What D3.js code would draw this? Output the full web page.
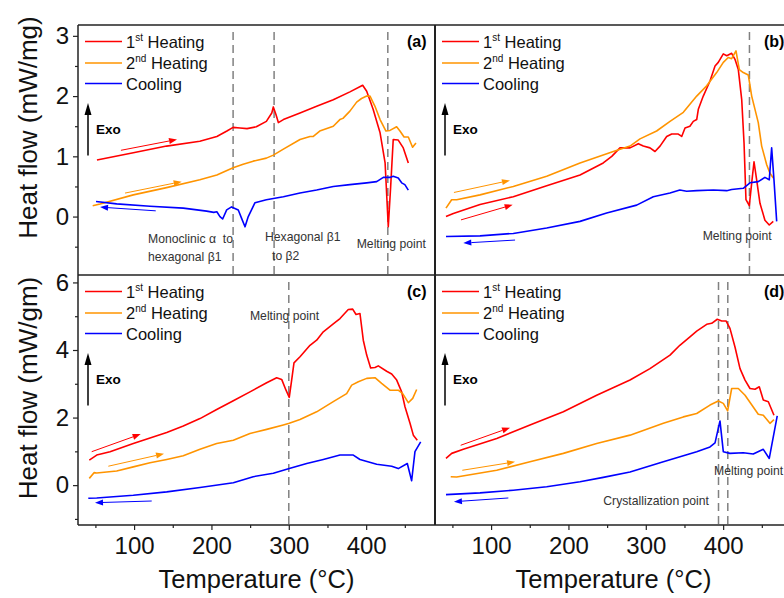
<!DOCTYPE html>
<html><head><meta charset="utf-8">
<script src="https://cdn.jsdelivr.net/npm/d3@7"></script>
<style>body{margin:0;background:#fff} text{font-family:"Liberation Sans",Arial,sans-serif}</style>
</head><body><svg id="chart" width="784" height="598"></svg>
<script>
// ---------------- data (Temperature °C, heat flow) ----------------
const seriesNames = [["1","st"," Heating"],["2","nd"," Heating"],["","","Cooling"]];
const xTicksMajor = [100,200,300,400];
const xTicksMinor = [50,150,250,350,450];
const yTicksTop = [0,1,2,3];
const yTicksTopMinor = [-0.5,0.5,1.5,2.5];
const yTicksBot = [0,2,4,6];
const yTicksBotMinor = [-1,1,3,5];
const xTitle = "Temperature (°C)";
const yTitleTop = "Heat flow (mW/mg)";
const yTitleBot = "Heat flow (mW/gm)";

const a_heat1 = [[52,0.94],[99,1.06],[142,1.17],[185,1.25],[207,1.33],[220,1.42],[228,1.48],[237,1.47],[246,1.46],[258,1.49],[271,1.58],[278,1.72],[280,1.82],[283.5,1.69],[286.5,1.56],[293,1.61],[314.5,1.72],[336,1.83],[357.5,1.94],[379,2.07],[395.5,2.18],[400.7,2.08],[409,1.78],[418,1.39],[424.5,0.89],[428.6,-0.17],[431.7,0.5],[435,1.28],[441.5,1.27],[448,1.14],[454.5,0.89]];
const a_heat2 = [[46.5,0.18],[56,0.21],[99,0.36],[142,0.48],[185,0.61],[207,0.69],[228,0.81],[241,0.87],[254,0.92],[271,0.97],[280,1.02],[293,1.12],[314.5,1.28],[327.4,1.33],[331.7,1.33],[340,1.42],[357.5,1.5],[366,1.61],[370,1.63],[379,1.75],[387.7,1.9],[394,1.96],[400.7,2.0],[405,2.0],[411.4,1.83],[418,1.61],[425.6,1.42],[430.8,1.43],[439.4,1.49],[443.7,1.42],[449,1.32],[454.5,1.32],[460,1.15],[464.4,1.22]];
const a_cool = [[50.8,0.25],[77.5,0.21],[120.6,0.17],[163.6,0.14],[193.8,0.09],[203,0.07],[207,0.08],[211,0.0],[214.5,-0.04],[219.7,0.11],[226,0.16],[234.7,0.11],[239,-0.03],[243.4,-0.17],[247.6,0.0],[256.3,0.23],[271,0.28],[293,0.33],[314.5,0.39],[336,0.44],[357.5,0.5],[379,0.53],[400.7,0.56],[413.6,0.58],[422.2,0.65],[430.8,0.65],[435,0.67],[441.5,0.64],[445.9,0.56],[450,0.53],[454.5,0.44]];

const b_heat1 = [[41.7,0.0],[51.2,0.05],[85.7,0.2],[128.7,0.33],[171.9,0.51],[215,0.69],[245,0.89],[256,1.0],[266.6,1.14],[279.6,1.14],[290.3,1.21],[296.8,1.17],[305.4,1.14],[311.9,1.08],[318.4,1.17],[327,1.33],[333.5,1.37],[342,1.37],[346.4,1.33],[350.7,1.47],[357,1.5],[361.4,1.58],[365.8,1.61],[367.9,1.78],[374.3,2.0],[383,2.25],[389.5,2.5],[393.7,2.56],[400.2,2.7],[404.6,2.67],[411,2.71],[415.3,2.61],[419.6,2.44],[424,1.94],[427,1.22],[429.5,0.28],[433.8,0.18],[436.9,0.56],[439.9,0.91],[443.3,0.61],[447.6,0.22],[454,-0.06],[459.6,-0.14],[464.8,-0.08]];
const b_heat2 = [[41.7,0.14],[49,0.28],[55.5,0.28],[85.7,0.36],[128.7,0.5],[171.9,0.67],[215,0.89],[258,1.08],[279.6,1.17],[292.5,1.29],[314,1.42],[331.3,1.58],[348.5,1.73],[365.8,2.0],[378.7,2.17],[391.6,2.39],[400.2,2.56],[406.6,2.64],[411,2.62],[416.6,2.75],[420.9,2.44],[426,2.39],[432.5,2.35],[436.9,2.0],[445.4,1.56],[449.8,1.17],[456.3,0.86],[460.5,0.72],[464.8,0.64]];
const b_cool = [[41.7,-0.33],[85.7,-0.32],[128.7,-0.28],[171.9,-0.19],[215,-0.08],[249.4,0.06],[288.2,0.19],[309.7,0.33],[331.3,0.39],[344,0.44],[352.8,0.42],[365.8,0.43],[387.3,0.44],[404.6,0.43],[411,0.45],[426,0.47],[434.7,0.56],[445.4,0.58],[454,0.65],[459.6,0.61],[462.7,1.14],[465.7,0.61],[469.2,-0.08]];

const c_heat1 = [[42.1,0.74],[51.7,0.89],[68.9,0.99],[99,1.23],[142.2,1.56],[163.6,1.75],[185.2,1.97],[206.8,2.24],[228.3,2.5],[249.8,2.76],[271.4,3.03],[284.3,3.18],[290.8,3.13],[296.4,2.81],[300.6,2.6],[303.7,3.11],[306.7,3.62],[314.5,3.8],[327.4,4.14],[336,4.29],[344.6,4.54],[357.5,4.77],[366.2,4.93],[376.9,5.2],[382.6,5.21],[386.9,5.05],[392,5.08],[396.3,4.29],[400.7,3.85],[405.8,3.47],[411.4,3.48],[415.7,3.53],[426.5,3.37],[433,3.29],[439.5,3.11],[445.9,2.76],[450.2,2.32],[456.7,1.83],[461,1.48],[466.1,1.33]];
const c_heat2 = [[42.1,0.2],[48.2,0.37],[51.7,0.36],[77.5,0.42],[99,0.54],[120.6,0.66],[142.2,0.76],[163.6,0.87],[185.2,1.06],[206.8,1.23],[228.3,1.33],[249.8,1.53],[271.4,1.65],[292.9,1.78],[300.6,1.83],[314.5,1.94],[336,2.17],[357.5,2.47],[374.8,2.71],[381.3,2.96],[389.9,3.06],[400.7,3.16],[411.4,3.18],[420,3.01],[430.8,2.81],[441.5,2.81],[447.2,2.71],[454.5,2.44],[460.2,2.57],[465.3,2.83]];
const c_cool = [[40.8,-0.39],[51.7,-0.38],[99,-0.3],[142.2,-0.2],[185.2,-0.07],[228.3,0.07],[254,0.25],[280,0.35],[300.6,0.49],[323.2,0.64],[344.6,0.76],[366.2,0.89],[383.4,0.89],[392,0.76],[413.6,0.62],[433,0.56],[441.5,0.49],[453.2,0.64],[458.8,0.13],[463.1,0.99],[470.5,1.28]];

const d_heat1 = [[41.7,0.79],[49.1,0.94],[64.1,1.06],[107.3,1.38],[150.3,1.78],[193.4,2.17],[236.5,2.66],[279.6,3.11],[305.4,3.45],[331.3,3.85],[344,4.14],[357.1,4.39],[365.8,4.56],[378.7,4.76],[385.2,4.79],[392.4,4.91],[398.1,4.86],[403.7,4.86],[408.8,4.64],[415.3,4.09],[421.8,3.45],[428.3,3.11],[434.7,2.86],[441.2,2.84],[446.7,2.91],[451.9,2.52],[458.4,2.47],[465.7,2.07]];
const d_heat2 = [[47.8,0.25],[55.5,0.24],[107.3,0.44],[150.3,0.69],[193.4,0.94],[236.5,1.23],[279.6,1.48],[322.7,1.83],[348.5,2.02],[365.8,2.12],[383,2.37],[393.7,2.49],[400.2,2.42],[405.8,2.2],[411,2.86],[419.6,2.86],[428.3,2.66],[445.4,2.1],[451.9,2.07],[460.5,1.83],[465.7,1.94]];
const d_cool = [[41.7,-0.28],[85.7,-0.23],[128.7,-0.15],[171.9,-0.05],[215,0.1],[245,0.23],[279.6,0.39],[322.7,0.69],[365.8,0.99],[383,1.13],[389.5,1.25],[395.9,1.9],[400.2,0.99],[408.8,0.94],[426,0.96],[438.9,0.92],[451.9,1.06],[459.6,0.79],[469.9,2.05]];

// direction arrows: [T start, value start, T end, value end] for heat1, heat2, cool
const a_arrows = [[83,1.1,155.5,1.28],[88.3,0.39,161.5,0.58],[128,0.095,56,0.157]];
const b_arrows = [[61.1,-0.055,127.9,0.195],[52,0.4,124.4,0.6],[131,-0.39,64.1,-0.44]];
const c_arrows = [[45.2,0.99,108.5,1.51],[66.7,0.56,138.7,0.93],[122.8,-0.47,49.5,-0.52]];
const d_arrows = [[60.7,1.18,124.5,1.7],[62.8,0.44,131,0.69],[122.3,-0.38,52,-0.49]];

// transition temperatures (dashed lines)
const a_marks = [228, 281, 428];
const b_marks = [434];
const c_marks = [300];
const d_marks = [394, 406];

// annotations: [T, value, text]
const a_notes = [[118,-0.447,"Monoclinic α  to"],[118,-0.738,"hexagonal β1"],[269.2,-0.406,"Hexagonal β1"],[278.3,-0.721,"to β2"],[387.8,-0.522,"Melting point"]];
const b_notes = [[373.5,-0.389,"Melting point"]];
const c_notes = [[249.8,4.888,"Melting point"]];
const d_notes = [[388.3,0.30,"Melting point"],[245.1,-0.588,"Crystallization point"]];

const panelLabels = ["(a)","(b)","(c)","(d)"];

// ---------------- layout ----------------
const colX = [78, 435], rowY = [25, 275], W = 357, H = 250;
const xDomain = [27.5, 489];
const yDomains = [[-0.97, 3.18], [-1.18, 6.22]];
const colors = ["#ff0000", "#ff9400", "#0000ff"];
const frameColor = "#222";
const fontFam = '"Liberation Sans",Arial,sans-serif';

const svg = d3.select("#chart");
const defs = svg.append("defs");

const panels = [
  {col:0,row:0,series:[a_heat1,a_heat2,a_cool],arrows:a_arrows,marks:a_marks,notes:a_notes},
  {col:1,row:0,series:[b_heat1,b_heat2,b_cool],arrows:b_arrows,marks:b_marks,notes:b_notes},
  {col:0,row:1,series:[c_heat1,c_heat2,c_cool],arrows:c_arrows,marks:c_marks,notes:c_notes},
  {col:1,row:1,series:[d_heat1,d_heat2,d_cool],arrows:d_arrows,marks:d_marks,notes:d_notes}
];

panels.forEach((p, i) => {
  const x0 = colX[p.col], y0 = rowY[p.row];
  const x = d3.scaleLinear().domain(xDomain).range([x0, x0 + W]);
  const y = d3.scaleLinear().domain(yDomains[p.row]).range([y0 + H, y0]);
  const clipId = "clip" + i;
  defs.append("clipPath").attr("id", clipId).append("rect")
    .attr("x", x0).attr("y", y0).attr("width", W).attr("height", H);
  const g = svg.append("g");

  // dashed transition lines
  g.selectAll(".mark").data(p.marks).enter().append("line")
    .attr("x1", d => x(d)).attr("x2", d => x(d))
    .attr("y1", y0 + 7).attr("y2", y0 + H)
    .attr("stroke", "#808080").attr("stroke-width", 1.5).attr("stroke-dasharray", "8,5");

  // annotations
  g.selectAll(".note").data(p.notes).enter().append("text")
    .attr("x", d => x(d[0])).attr("y", d => y(d[1]))
    .attr("font-size", 12.2).attr("fill", "#333").style("white-space", "pre")
    .text(d => d[2]);

  // curves
  const line = d3.line().x(d => x(d[0])).y(d => y(d[1]));
  const cg = g.append("g").attr("clip-path", `url(#${clipId})`);
  p.series.forEach((s, k) => {
    cg.append("path").attr("d", line(s)).attr("fill", "none")
      .attr("stroke", colors[k]).attr("stroke-width", 1.6).attr("stroke-linejoin", "round");
  });

  // direction arrows
  p.arrows.forEach((a, k) => {
    const xs = x(a[0]), ys = y(a[1]), xe = x(a[2]), ye = y(a[3]);
    const ang = Math.atan2(ye - ys, xe - xs);
    const L = 8, Wd = 3;
    const bx = xe - L * Math.cos(ang), by = ye - L * Math.sin(ang);
    g.append("line").attr("x1", xs).attr("y1", ys).attr("x2", bx).attr("y2", by)
      .attr("stroke", colors[k]).attr("stroke-width", 1);
    g.append("path").attr("fill", colors[k])
      .attr("d", `M${xe},${ye}L${bx - Wd * Math.sin(ang)},${by + Wd * Math.cos(ang)}L${bx + Wd * Math.sin(ang)},${by - Wd * Math.cos(ang)}Z`);
  });

  // legend
  const legY = [16.5, 38, 58.5];
  seriesNames.forEach((nm, k) => {
    const ly = y0 + legY[k];
    g.append("line").attr("x1", x0 + 7).attr("x2", x0 + 44).attr("y1", ly).attr("y2", ly)
      .attr("stroke", colors[k]).attr("stroke-width", 1.6);
    const t = g.append("text").attr("x", x0 + 48).attr("y", ly + 6).attr("font-size", 16.5).attr("fill", "#111");
    if (nm[0]) {
      t.append("tspan").text(nm[0]);
      t.append("tspan").attr("font-size", 10).attr("dy", -7).text(nm[1]);
      t.append("tspan").attr("dy", 7).text(nm[2]);
    } else {
      t.text(nm[2]);
    }
  });

  // Exo arrow
  const ex = x0 + 10;
  g.append("line").attr("x1", ex).attr("x2", ex).attr("y1", y0 + 130.5).attr("y2", y0 + 88)
    .attr("stroke", "#000").attr("stroke-width", 1.5);
  g.append("path").attr("fill", "#000")
    .attr("d", `M${ex},${y0 + 78}L${ex - 3.5},${y0 + 90}L${ex + 3.5},${y0 + 90}Z`);
  g.append("text").attr("x", x0 + 18).attr("y", y0 + 109).attr("font-size", 13.5)
    .attr("font-weight", "bold").text("Exo");

  // panel label
  g.append("text").attr("x", x0 + 329).attr("y", y0 + 21.5).attr("font-size", 16)
    .attr("font-weight", "bold").text(panelLabels[i]);

  // axes
  if (p.col === 0) {
    const maj = p.row === 0 ? yTicksTop : yTicksBot;
    const mnr = p.row === 0 ? yTicksTopMinor : yTicksBotMinor;
    const ax = svg.append("g").attr("transform", `translate(${x0},0)`)
      .call(d3.axisLeft(y).tickValues(maj).tickSize(5).tickPadding(4).tickFormat(d3.format("d")));
    ax.select(".domain").remove();
    ax.selectAll("text").attr("font-size", 24).attr("font-family", fontFam).attr("fill", "#111");
    ax.selectAll("line").attr("stroke", frameColor).attr("stroke-width", 1.2);
    const am = svg.append("g").attr("transform", `translate(${x0},0)`)
      .call(d3.axisLeft(y).tickValues(mnr).tickSize(3).tickFormat(""));
    am.select(".domain").remove();
    am.selectAll("line").attr("stroke", frameColor).attr("stroke-width", 1.2);
  }
  if (p.row === 1) {
    const ax = svg.append("g").attr("transform", `translate(0,${y0 + H})`)
      .call(d3.axisBottom(x).tickValues(xTicksMajor).tickSize(5).tickPadding(7).tickFormat(d3.format("d")));
    ax.select(".domain").remove();
    ax.selectAll("text").attr("font-size", 24).attr("font-family", fontFam).attr("fill", "#111");
    ax.selectAll("line").attr("stroke", frameColor).attr("stroke-width", 1.2);
    const am = svg.append("g").attr("transform", `translate(0,${y0 + H})`)
      .call(d3.axisBottom(x).tickValues(xTicksMinor).tickSize(3).tickFormat(""));
    am.select(".domain").remove();
    am.selectAll("line").attr("stroke", frameColor).attr("stroke-width", 1.2);
    svg.append("text").attr("x", x0 + W / 2).attr("y", 588).attr("text-anchor", "middle")
      .attr("font-size", 25.5).attr("fill", "#111").text(xTitle);
  }
});

// frame
const fr = svg.append("g").attr("stroke", frameColor).attr("fill", "none");
[rowY[0], rowY[1], rowY[1] + H].forEach(yy => {
  fr.append("line").attr("x1", colX[0]).attr("x2", colX[1] + W).attr("y1", yy).attr("y2", yy).attr("stroke-width", 1.5);
});
fr.append("line").attr("x1", colX[0]).attr("x2", colX[0]).attr("y1", rowY[0]).attr("y2", rowY[1] + H).attr("stroke-width", 1.5);
fr.append("line").attr("x1", colX[1]).attr("x2", colX[1]).attr("y1", rowY[0]).attr("y2", rowY[1] + H).attr("stroke-width", 2);

// y titles
[[yTitleTop, 127.5], [yTitleBot, 388]].forEach(([t, cy]) => {
  svg.append("text").attr("transform", `translate(37,${cy}) rotate(-90)`).attr("text-anchor", "middle")
    .attr("font-size", 26).attr("fill", "#111").text(t);
});
</script></body></html>
